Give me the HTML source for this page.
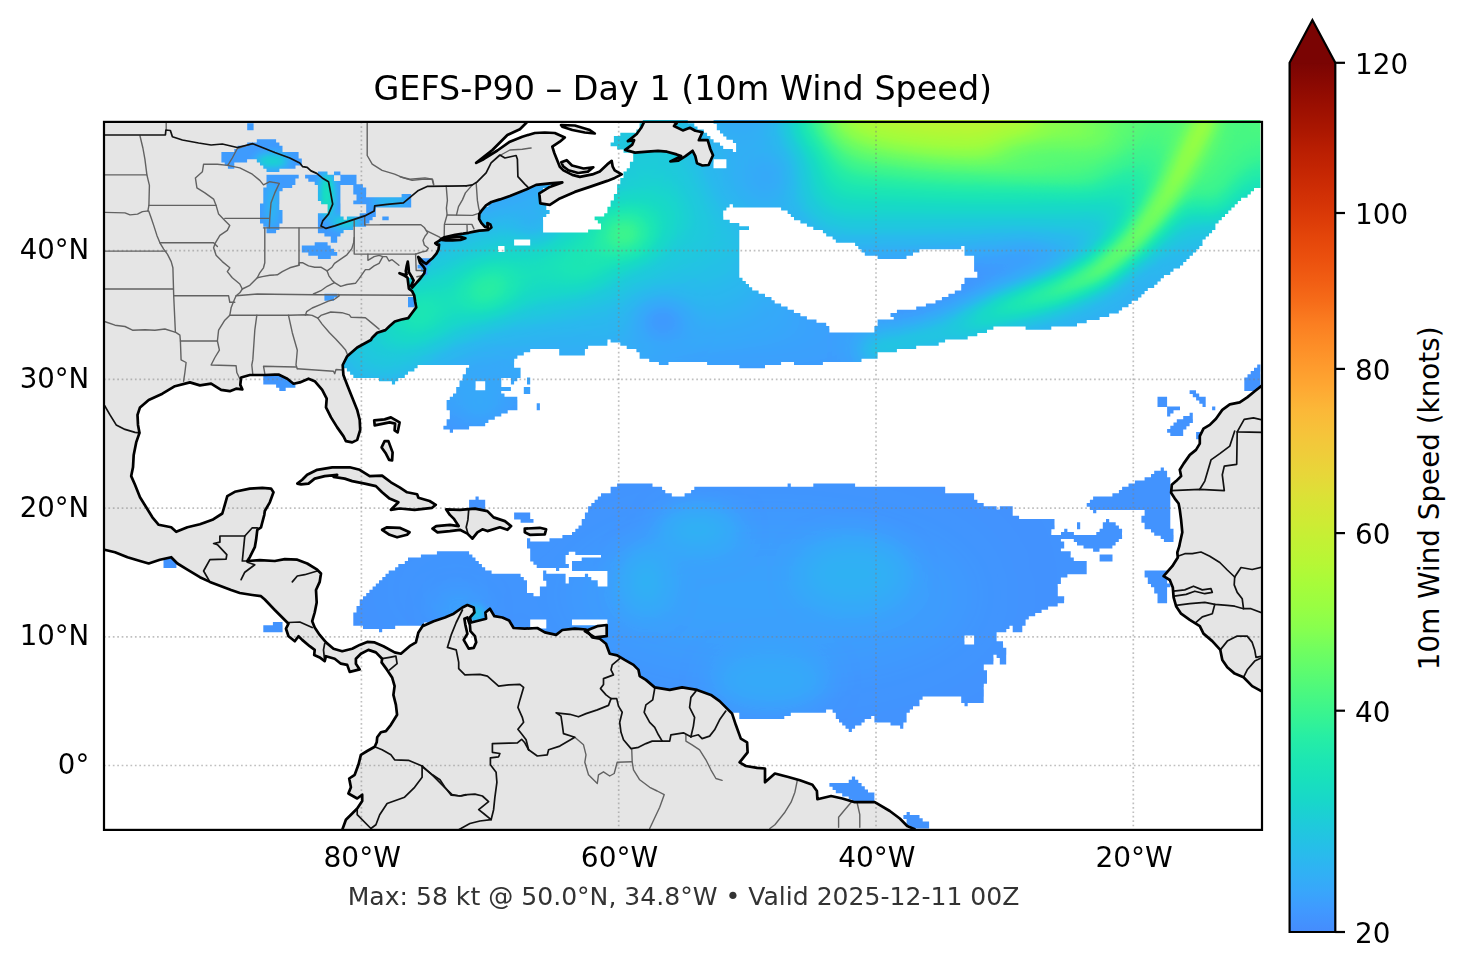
<!DOCTYPE html><html><head><meta charset="utf-8"><title>GEFS-P90 Day 1 10m Wind Speed</title>
<style>html,body{margin:0;padding:0;background:#fff}body{width:1466px;height:969px;overflow:hidden}svg{display:block}text{font-family:"DejaVu Sans","Liberation Sans",sans-serif;fill:#000}</style></head><body>
<svg width="1466" height="969" viewBox="0 0 1466 969">
<defs>
<filter id="turbo" filterUnits="userSpaceOnUse" x="0" y="0" width="1466" height="969" color-interpolation-filters="sRGB"><feComponentTransfer><feFuncR type="table" tableValues="0.269 0.259 0.249 0.233 0.214 0.200 0.179 0.165 0.145 0.127 0.116 0.104 0.095 0.093 0.095 0.103 0.114 0.135 0.153 0.185 0.221 0.248 0.290 0.335 0.366 0.412 0.443 0.489 0.533 0.560 0.599 0.633 0.654 0.685 0.716 0.736 0.766 0.786 0.814 0.841 0.859"/><feFuncG type="table" tableValues="0.550 0.580 0.599 0.629 0.659 0.678 0.707 0.726 0.754 0.780 0.797 0.822 0.845 0.859 0.878 0.896 0.907 0.922 0.932 0.945 0.957 0.964 0.974 0.982 0.987 0.993 0.996 0.998 0.999 0.999 0.996 0.992 0.988 0.979 0.969 0.960 0.946 0.936 0.919 0.900 0.887"/><feFuncB type="table" tableValues="0.993 0.999 0.998 0.992 0.980 0.968 0.948 0.932 0.905 0.876 0.856 0.824 0.793 0.772 0.743 0.715 0.697 0.666 0.643 0.607 0.569 0.543 0.503 0.463 0.437 0.398 0.373 0.338 0.306 0.286 0.260 0.239 0.228 0.216 0.208 0.205 0.203 0.203 0.206 0.209 0.212"/></feComponentTransfer></filter>
<filter id="b4" filterUnits="userSpaceOnUse" x="-200" y="-200" width="1866" height="1369" color-interpolation-filters="sRGB"><feGaussianBlur stdDeviation="4"/></filter>
<filter id="b8" filterUnits="userSpaceOnUse" x="-200" y="-200" width="1866" height="1369" color-interpolation-filters="sRGB"><feGaussianBlur stdDeviation="8"/></filter>
<filter id="b14" filterUnits="userSpaceOnUse" x="-200" y="-200" width="1866" height="1369" color-interpolation-filters="sRGB"><feGaussianBlur stdDeviation="14"/></filter>
<filter id="b22" filterUnits="userSpaceOnUse" x="-200" y="-200" width="1866" height="1369" color-interpolation-filters="sRGB"><feGaussianBlur stdDeviation="22"/></filter>
<filter id="b35" filterUnits="userSpaceOnUse" x="-200" y="-200" width="1866" height="1369" color-interpolation-filters="sRGB"><feGaussianBlur stdDeviation="35"/></filter>
<clipPath id="cmap"><rect x="104.0" y="121.9" width="1158.0" height="708.0"/></clipPath>
<clipPath id="cocean"><path d="M642.8 120.0h45.0v3.82h-45.0zM713.6 120.0h546.8v3.82h-546.8zM639.6 123.2h54.7v3.82h-54.7zM716.8 123.2h543.6v3.82h-543.6zM639.6 126.4h57.9v3.82h-57.9zM716.8 126.4h543.6v3.82h-543.6zM636.4 129.6h67.5v3.82h-67.5zM720.0 129.6h540.4v3.82h-540.4zM620.3 132.8h86.8v3.82h-86.8zM723.2 132.8h537.2v3.82h-537.2zM613.9 136.0h96.5v3.82h-96.5zM726.4 136.0h534.0v3.82h-534.0zM613.9 139.3h99.7v3.82h-99.7zM732.9 139.3h527.5v3.82h-527.5zM610.6 142.5h109.4v3.82h-109.4zM736.1 142.5h524.3v3.82h-524.3zM617.1 145.7h106.1v3.82h-106.1zM736.1 145.7h524.3v3.82h-524.3zM623.5 148.9h109.4v3.82h-109.4zM736.1 148.9h524.3v3.82h-524.3zM633.2 152.1h627.2v3.82h-627.2zM633.2 155.4h627.2v3.82h-627.2zM633.2 158.6h80.4v3.82h-80.4zM726.4 158.6h534.0v3.82h-534.0zM629.9 161.8h83.6v3.82h-83.6zM726.4 161.8h534.0v3.82h-534.0zM629.9 165.0h83.6v3.82h-83.6zM726.4 165.0h534.0v3.82h-534.0zM626.7 168.2h633.7v3.82h-633.7zM623.5 171.4h636.9v3.82h-636.9zM623.5 174.7h636.9v3.82h-636.9zM536.7 177.9h3.2v3.82h-3.2zM620.3 177.9h640.1v3.82h-640.1zM523.8 181.1h28.9v3.82h-28.9zM620.3 181.1h640.1v3.82h-640.1zM517.4 184.3h32.2v3.82h-32.2zM617.1 184.3h643.3v3.82h-643.3zM510.9 187.5h32.2v3.82h-32.2zM617.1 187.5h636.9v3.82h-636.9zM504.5 190.8h35.4v3.82h-35.4zM617.1 190.8h633.7v3.82h-633.7zM498.1 194.0h41.8v3.82h-41.8zM613.9 194.0h633.7v3.82h-633.7zM494.8 197.2h45.0v3.82h-45.0zM613.9 197.2h627.2v3.82h-627.2zM491.6 200.4h48.2v3.82h-48.2zM610.6 200.4h627.2v3.82h-627.2zM488.4 203.6h57.9v3.82h-57.9zM610.6 203.6h119.0v3.82h-119.0zM732.9 203.6h501.8v3.82h-501.8zM482.0 206.8h64.3v3.82h-64.3zM607.4 206.8h119.0v3.82h-119.0zM781.1 206.8h450.3v3.82h-450.3zM478.8 210.1h70.8v3.82h-70.8zM607.4 210.1h115.8v3.82h-115.8zM787.6 210.1h440.7v3.82h-440.7zM475.5 213.3h70.8v3.82h-70.8zM604.2 213.3h119.0v3.82h-119.0zM790.8 213.3h434.2v3.82h-434.2zM475.5 216.5h67.5v3.82h-67.5zM594.6 216.5h128.7v3.82h-128.7zM794.0 216.5h427.8v3.82h-427.8zM472.3 219.7h70.8v3.82h-70.8zM597.8 219.7h131.9v3.82h-131.9zM800.4 219.7h418.2v3.82h-418.2zM472.3 222.9h70.8v3.82h-70.8zM601.0 222.9h138.3v3.82h-138.3zM806.9 222.9h408.5v3.82h-408.5zM459.5 226.2h83.6v3.82h-83.6zM601.0 226.2h148.0v3.82h-148.0zM813.3 226.2h402.1v3.82h-402.1zM449.8 229.4h93.3v3.82h-93.3zM588.1 229.4h151.2v3.82h-151.2zM822.9 229.4h389.2v3.82h-389.2zM436.9 232.6h302.4v3.82h-302.4zM826.2 232.6h382.8v3.82h-382.8zM433.7 235.8h305.6v3.82h-305.6zM832.6 235.8h373.1v3.82h-373.1zM433.7 239.0h80.4v3.82h-80.4zM530.2 239.0h209.1v3.82h-209.1zM835.8 239.0h366.7v3.82h-366.7zM430.5 242.2h83.6v3.82h-83.6zM530.2 242.2h209.1v3.82h-209.1zM855.1 242.2h347.4v3.82h-347.4zM427.3 245.5h70.8v3.82h-70.8zM504.5 245.5h234.8v3.82h-234.8zM858.3 245.5h102.9v3.82h-102.9zM964.5 245.5h234.8v3.82h-234.8zM424.1 248.7h74.0v3.82h-74.0zM504.5 248.7h234.8v3.82h-234.8zM861.5 248.7h57.9v3.82h-57.9zM964.5 248.7h231.6v3.82h-231.6zM424.1 251.9h315.2v3.82h-315.2zM864.8 251.9h48.2v3.82h-48.2zM964.5 251.9h228.4v3.82h-228.4zM420.9 255.1h318.4v3.82h-318.4zM877.6 255.1h28.9v3.82h-28.9zM974.1 255.1h215.5v3.82h-215.5zM420.9 258.3h318.4v3.82h-318.4zM974.1 258.3h212.3v3.82h-212.3zM417.6 261.6h321.7v3.82h-321.7zM974.1 261.6h209.1v3.82h-209.1zM414.4 264.8h324.9v3.82h-324.9zM974.1 264.8h205.9v3.82h-205.9zM414.4 268.0h324.9v3.82h-324.9zM974.1 268.0h199.4v3.82h-199.4zM411.2 271.2h328.1v3.82h-328.1zM977.3 271.2h193.0v3.82h-193.0zM411.2 274.4h328.1v3.82h-328.1zM977.3 274.4h186.6v3.82h-186.6zM404.8 277.7h337.7v3.82h-337.7zM964.5 277.7h196.2v3.82h-196.2zM404.8 280.9h341.0v3.82h-341.0zM964.5 280.9h193.0v3.82h-193.0zM404.8 284.1h344.2v3.82h-344.2zM961.2 284.1h193.0v3.82h-193.0zM404.8 287.3h347.4v3.82h-347.4zM961.2 287.3h186.6v3.82h-186.6zM408.0 290.5h350.6v3.82h-350.6zM954.8 290.5h189.8v3.82h-189.8zM408.0 293.7h357.0v3.82h-357.0zM948.4 293.7h193.0v3.82h-193.0zM408.0 297.0h363.5v3.82h-363.5zM941.9 297.0h196.2v3.82h-196.2zM408.0 300.2h366.7v3.82h-366.7zM935.5 300.2h196.2v3.82h-196.2zM404.8 303.4h376.3v3.82h-376.3zM925.9 303.4h202.6v3.82h-202.6zM401.6 306.6h386.0v3.82h-386.0zM916.2 306.6h205.9v3.82h-205.9zM398.3 309.8h395.6v3.82h-395.6zM896.9 309.8h221.9v3.82h-221.9zM395.1 313.1h405.3v3.82h-405.3zM890.5 313.1h218.7v3.82h-218.7zM388.7 316.3h418.2v3.82h-418.2zM893.7 316.3h205.9v3.82h-205.9zM385.5 319.5h431.0v3.82h-431.0zM877.6 319.5h209.1v3.82h-209.1zM382.3 322.7h443.9v3.82h-443.9zM877.6 322.7h199.4v3.82h-199.4zM379.0 325.9h450.3v3.82h-450.3zM874.4 325.9h119.0v3.82h-119.0zM1025.6 325.9h25.7v3.82h-25.7zM372.6 329.1h456.8v3.82h-456.8zM874.4 329.1h112.6v3.82h-112.6zM369.4 332.4h607.9v3.82h-607.9zM366.2 335.6h601.5v3.82h-601.5zM363.0 338.8h244.5v3.82h-244.5zM610.6 338.8h334.5v3.82h-334.5zM359.7 342.0h247.7v3.82h-247.7zM620.3 342.0h318.4v3.82h-318.4zM353.3 345.2h234.8v3.82h-234.8zM626.7 345.2h289.5v3.82h-289.5zM350.1 348.5h180.1v3.82h-180.1zM559.2 348.5h25.7v3.82h-25.7zM636.4 348.5h260.5v3.82h-260.5zM346.9 351.7h176.9v3.82h-176.9zM559.2 351.7h25.7v3.82h-25.7zM639.6 351.7h238.0v3.82h-238.0zM343.7 354.9h173.7v3.82h-173.7zM639.6 354.9h238.0v3.82h-238.0zM343.7 358.1h170.5v3.82h-170.5zM649.2 358.1h212.3v3.82h-212.3zM340.4 361.3h173.7v3.82h-173.7zM658.9 361.3h9.6v3.82h-9.6zM707.1 361.3h74.0v3.82h-74.0zM794.0 361.3h28.9v3.82h-28.9zM337.2 364.5h80.4v3.82h-80.4zM469.1 364.5h45.0v3.82h-45.0zM739.3 364.5h25.7v3.82h-25.7zM1257.2 364.5h3.2v3.82h-3.2zM346.9 367.8h67.5v3.82h-67.5zM465.9 367.8h54.7v3.82h-54.7zM1254.0 367.8h6.4v3.82h-6.4zM350.1 371.0h57.9v3.82h-57.9zM465.9 371.0h54.7v3.82h-54.7zM1250.7 371.0h9.6v3.82h-9.6zM263.3 374.2h22.5v3.82h-22.5zM353.3 374.2h51.5v3.82h-51.5zM462.7 374.2h57.9v3.82h-57.9zM1247.5 374.2h12.9v3.82h-12.9zM263.3 377.4h25.7v3.82h-25.7zM379.0 377.4h19.3v3.82h-19.3zM462.7 377.4h38.6v3.82h-38.6zM510.9 377.4h6.4v3.82h-6.4zM527.0 377.4h3.2v3.82h-3.2zM1244.3 377.4h16.1v3.82h-16.1zM263.3 380.6h28.9v3.82h-28.9zM391.9 380.6h3.2v3.82h-3.2zM459.5 380.6h16.1v3.82h-16.1zM485.2 380.6h16.1v3.82h-16.1zM510.9 380.6h3.2v3.82h-3.2zM527.0 380.6h3.2v3.82h-3.2zM1244.3 380.6h16.1v3.82h-16.1zM276.1 383.9h19.3v3.82h-19.3zM459.5 383.9h16.1v3.82h-16.1zM485.2 383.9h16.1v3.82h-16.1zM1244.3 383.9h16.1v3.82h-16.1zM279.3 387.1h6.4v3.82h-6.4zM456.2 387.1h19.3v3.82h-19.3zM485.2 387.1h25.7v3.82h-25.7zM523.8 387.1h6.4v3.82h-6.4zM1244.3 387.1h12.9v3.82h-12.9zM456.2 390.3h45.0v3.82h-45.0zM523.8 390.3h6.4v3.82h-6.4zM1189.6 390.3h6.4v3.82h-6.4zM453.0 393.5h51.5v3.82h-51.5zM1192.8 393.5h6.4v3.82h-6.4zM449.8 396.7h67.5v3.82h-67.5zM1157.5 396.7h9.6v3.82h-9.6zM1196.1 396.7h9.6v3.82h-9.6zM446.6 399.9h70.8v3.82h-70.8zM1157.5 399.9h9.6v3.82h-9.6zM1199.3 399.9h6.4v3.82h-6.4zM446.6 403.2h70.8v3.82h-70.8zM536.7 403.2h3.2v3.82h-3.2zM1157.5 403.2h9.6v3.82h-9.6zM1202.5 403.2h3.2v3.82h-3.2zM446.6 406.4h70.8v3.82h-70.8zM536.7 406.4h3.2v3.82h-3.2zM1167.1 406.4h12.9v3.82h-12.9zM1212.1 406.4h3.2v3.82h-3.2zM449.8 409.6h57.9v3.82h-57.9zM1167.1 409.6h6.4v3.82h-6.4zM449.8 412.8h51.5v3.82h-51.5zM1167.1 412.8h3.2v3.82h-3.2zM1189.6 412.8h3.2v3.82h-3.2zM449.8 416.0h45.0v3.82h-45.0zM1183.2 416.0h9.6v3.82h-9.6zM446.6 419.3h41.8v3.82h-41.8zM1176.8 419.3h16.1v3.82h-16.1zM446.6 422.5h38.6v3.82h-38.6zM1173.5 422.5h16.1v3.82h-16.1zM443.4 425.7h25.7v3.82h-25.7zM1170.3 425.7h16.1v3.82h-16.1zM449.8 428.9h3.2v3.82h-3.2zM1167.1 428.9h16.1v3.82h-16.1zM1170.3 432.1h12.9v3.82h-12.9zM1196.1 432.1h6.4v3.82h-6.4zM1196.1 435.4h6.4v3.82h-6.4zM1160.7 467.5h3.2v3.82h-3.2zM1154.2 470.8h12.9v3.82h-12.9zM1151.0 474.0h16.1v3.82h-16.1zM1144.6 477.2h25.7v3.82h-25.7zM1134.9 480.4h35.4v3.82h-35.4zM617.1 483.6h35.4v3.82h-35.4zM787.6 483.6h3.2v3.82h-3.2zM813.3 483.6h41.8v3.82h-41.8zM1128.5 483.6h41.8v3.82h-41.8zM610.6 486.8h51.5v3.82h-51.5zM694.3 486.8h250.9v3.82h-250.9zM1122.1 486.8h48.2v3.82h-48.2zM610.6 490.1h54.7v3.82h-54.7zM691.1 490.1h254.1v3.82h-254.1zM1118.9 490.1h51.5v3.82h-51.5zM601.0 493.3h70.8v3.82h-70.8zM684.6 493.3h289.5v3.82h-289.5zM1112.4 493.3h57.9v3.82h-57.9zM475.5 496.5h3.2v3.82h-3.2zM597.8 496.5h376.3v3.82h-376.3zM1093.1 496.5h77.2v3.82h-77.2zM469.1 499.7h16.1v3.82h-16.1zM594.6 499.7h382.8v3.82h-382.8zM1089.9 499.7h80.4v3.82h-80.4zM469.1 502.9h16.1v3.82h-16.1zM591.3 502.9h392.4v3.82h-392.4zM1086.7 502.9h83.6v3.82h-83.6zM469.1 506.2h16.1v3.82h-16.1zM588.1 506.2h408.5v3.82h-408.5zM999.8 506.2h12.9v3.82h-12.9zM1089.9 506.2h80.4v3.82h-80.4zM588.1 509.4h424.6v3.82h-424.6zM1093.1 509.4h3.2v3.82h-3.2zM1144.6 509.4h25.7v3.82h-25.7zM514.1 512.6h16.1v3.82h-16.1zM584.9 512.6h427.8v3.82h-427.8zM1144.6 512.6h25.7v3.82h-25.7zM514.1 515.8h16.1v3.82h-16.1zM584.9 515.8h434.2v3.82h-434.2zM1141.4 515.8h28.9v3.82h-28.9zM520.6 519.0h12.9v3.82h-12.9zM581.7 519.0h472.8v3.82h-472.8zM1106.0 519.0h3.2v3.82h-3.2zM1141.4 519.0h28.9v3.82h-28.9zM581.7 522.2h472.8v3.82h-472.8zM1077.0 522.2h3.2v3.82h-3.2zM1102.8 522.2h12.9v3.82h-12.9zM1144.6 522.2h25.7v3.82h-25.7zM578.5 525.5h476.1v3.82h-476.1zM1077.0 525.5h3.2v3.82h-3.2zM1102.8 525.5h16.1v3.82h-16.1zM1144.6 525.5h25.7v3.82h-25.7zM575.3 528.7h476.1v3.82h-476.1zM1064.2 528.7h3.2v3.82h-3.2zM1099.6 528.7h22.5v3.82h-22.5zM1151.0 528.7h22.5v3.82h-22.5zM572.0 531.9h479.3v3.82h-479.3zM1061.0 531.9h12.9v3.82h-12.9zM1096.3 531.9h25.7v3.82h-25.7zM1154.2 531.9h19.3v3.82h-19.3zM562.4 535.1h559.7v3.82h-559.7zM1160.7 535.1h12.9v3.82h-12.9zM527.0 538.3h3.2v3.82h-3.2zM549.5 538.3h511.4v3.82h-511.4zM1073.8 538.3h45.0v3.82h-45.0zM1163.9 538.3h9.6v3.82h-9.6zM527.0 541.6h537.2v3.82h-537.2zM1077.0 541.6h38.6v3.82h-38.6zM527.0 544.8h537.2v3.82h-537.2zM1083.5 544.8h28.9v3.82h-28.9zM530.2 548.0h530.7v3.82h-530.7zM1093.1 548.0h6.4v3.82h-6.4zM436.9 551.2h32.2v3.82h-32.2zM530.2 551.2h38.6v3.82h-38.6zM575.3 551.2h495.4v3.82h-495.4zM170.0 554.4h3.2v3.82h-3.2zM420.9 554.4h51.5v3.82h-51.5zM530.2 554.4h35.4v3.82h-35.4zM601.0 554.4h469.6v3.82h-469.6zM1099.6 554.4h12.9v3.82h-12.9zM163.5 557.6h12.9v3.82h-12.9zM408.0 557.6h67.5v3.82h-67.5zM530.2 557.6h35.4v3.82h-35.4zM581.7 557.6h492.1v3.82h-492.1zM1099.6 557.6h12.9v3.82h-12.9zM163.5 560.9h12.9v3.82h-12.9zM404.8 560.9h74.0v3.82h-74.0zM533.4 560.9h32.2v3.82h-32.2zM572.0 560.9h514.7v3.82h-514.7zM163.5 564.1h12.9v3.82h-12.9zM398.3 564.1h83.6v3.82h-83.6zM536.7 564.1h32.2v3.82h-32.2zM572.0 564.1h514.7v3.82h-514.7zM395.1 567.3h90.1v3.82h-90.1zM556.0 567.3h3.2v3.82h-3.2zM572.0 567.3h514.7v3.82h-514.7zM388.7 570.5h102.9v3.82h-102.9zM543.1 570.5h3.2v3.82h-3.2zM607.4 570.5h479.3v3.82h-479.3zM1144.6 570.5h22.5v3.82h-22.5zM385.5 573.7h135.1v3.82h-135.1zM543.1 573.7h22.5v3.82h-22.5zM584.9 573.7h3.2v3.82h-3.2zM607.4 573.7h460.0v3.82h-460.0zM1144.6 573.7h22.5v3.82h-22.5zM382.3 577.0h141.5v3.82h-141.5zM543.1 577.0h22.5v3.82h-22.5zM568.8 577.0h22.5v3.82h-22.5zM607.4 577.0h453.5v3.82h-453.5zM1147.8 577.0h19.3v3.82h-19.3zM379.0 580.2h148.0v3.82h-148.0zM546.3 580.2h19.3v3.82h-19.3zM568.8 580.2h28.9v3.82h-28.9zM607.4 580.2h453.5v3.82h-453.5zM1147.8 580.2h19.3v3.82h-19.3zM375.8 583.4h151.2v3.82h-151.2zM546.3 583.4h51.5v3.82h-51.5zM607.4 583.4h450.3v3.82h-450.3zM1151.0 583.4h19.3v3.82h-19.3zM372.6 586.6h154.4v3.82h-154.4zM539.9 586.6h517.9v3.82h-517.9zM1154.2 586.6h12.9v3.82h-12.9zM369.4 589.8h157.6v3.82h-157.6zM539.9 589.8h517.9v3.82h-517.9zM1154.2 589.8h12.9v3.82h-12.9zM366.2 593.1h167.3v3.82h-167.3zM539.9 593.1h517.9v3.82h-517.9zM1157.5 593.1h9.6v3.82h-9.6zM363.0 596.3h701.2v3.82h-701.2zM1157.5 596.3h9.6v3.82h-9.6zM359.7 599.5h704.4v3.82h-704.4zM1157.5 599.5h9.6v3.82h-9.6zM359.7 602.7h698.0v3.82h-698.0zM356.5 605.9h691.6v3.82h-691.6zM356.5 609.1h685.1v3.82h-685.1zM353.3 612.4h681.9v3.82h-681.9zM353.3 615.6h102.9v3.82h-102.9zM465.9 615.6h562.9v3.82h-562.9zM353.3 618.8h99.7v3.82h-99.7zM472.3 618.8h57.9v3.82h-57.9zM546.3 618.8h25.7v3.82h-25.7zM607.4 618.8h418.2v3.82h-418.2zM272.9 622.0h9.6v3.82h-9.6zM353.3 622.0h70.8v3.82h-70.8zM427.3 622.0h19.3v3.82h-19.3zM482.0 622.0h48.2v3.82h-48.2zM546.3 622.0h25.7v3.82h-25.7zM607.4 622.0h418.2v3.82h-418.2zM263.3 625.2h19.3v3.82h-19.3zM363.0 625.2h32.2v3.82h-32.2zM424.1 625.2h3.2v3.82h-3.2zM507.7 625.2h22.5v3.82h-22.5zM546.3 625.2h463.2v3.82h-463.2zM1012.7 625.2h9.6v3.82h-9.6zM263.3 628.5h19.3v3.82h-19.3zM379.0 628.5h3.2v3.82h-3.2zM420.9 628.5h3.2v3.82h-3.2zM507.7 628.5h498.6v3.82h-498.6zM1012.7 628.5h9.6v3.82h-9.6zM510.9 631.7h485.7v3.82h-485.7zM546.3 634.9h19.3v3.82h-19.3zM581.7 634.9h382.8v3.82h-382.8zM974.1 634.9h22.5v3.82h-22.5zM556.0 638.1h3.2v3.82h-3.2zM588.1 638.1h376.3v3.82h-376.3zM974.1 638.1h22.5v3.82h-22.5zM597.8 641.3h366.7v3.82h-366.7zM974.1 641.3h28.9v3.82h-28.9zM604.2 644.5h398.9v3.82h-398.9zM604.2 647.8h402.1v3.82h-402.1zM604.2 651.0h402.1v3.82h-402.1zM604.2 654.2h389.2v3.82h-389.2zM996.6 654.2h9.6v3.82h-9.6zM613.9 657.4h379.6v3.82h-379.6zM999.8 657.4h6.4v3.82h-6.4zM620.3 660.6h373.1v3.82h-373.1zM999.8 660.6h6.4v3.82h-6.4zM623.5 663.9h360.3v3.82h-360.3zM633.2 667.1h350.6v3.82h-350.6zM633.2 670.3h353.8v3.82h-353.8zM636.4 673.5h350.6v3.82h-350.6zM636.4 676.7h350.6v3.82h-350.6zM639.6 679.9h347.4v3.82h-347.4zM642.8 683.2h341.0v3.82h-341.0zM649.2 686.4h334.5v3.82h-334.5zM652.5 689.6h331.3v3.82h-331.3zM668.5 692.8h3.2v3.82h-3.2zM694.3 692.8h289.5v3.82h-289.5zM700.7 696.0h221.9v3.82h-221.9zM961.2 696.0h22.5v3.82h-22.5zM707.1 699.3h212.3v3.82h-212.3zM961.2 699.3h22.5v3.82h-22.5zM713.6 702.5h205.9v3.82h-205.9zM964.5 702.5h3.2v3.82h-3.2zM716.8 705.7h196.2v3.82h-196.2zM723.2 708.9h102.9v3.82h-102.9zM832.6 708.9h77.2v3.82h-77.2zM739.3 712.1h51.5v3.82h-51.5zM835.8 712.1h70.8v3.82h-70.8zM739.3 715.3h45.0v3.82h-45.0zM835.8 715.3h35.4v3.82h-35.4zM874.4 715.3h32.2v3.82h-32.2zM839.0 718.6h25.7v3.82h-25.7zM874.4 718.6h32.2v3.82h-32.2zM842.2 721.8h19.3v3.82h-19.3zM890.5 721.8h12.9v3.82h-12.9zM845.5 725.0h9.6v3.82h-9.6zM900.1 725.0h3.2v3.82h-3.2zM848.7 728.2h3.2v3.82h-3.2zM851.9 776.5h3.2v3.82h-3.2zM848.7 779.7h9.6v3.82h-9.6zM829.4 782.9h32.2v3.82h-32.2zM832.6 786.2h32.2v3.82h-32.2zM835.8 789.4h32.2v3.82h-32.2zM842.2 792.6h32.2v3.82h-32.2zM848.7 795.8h25.7v3.82h-25.7zM851.9 799.0h22.5v3.82h-22.5zM906.6 811.9h3.2v3.82h-3.2zM903.4 815.1h16.1v3.82h-16.1zM906.6 818.3h16.1v3.82h-16.1zM906.6 821.6h22.5v3.82h-22.5zM909.8 824.8h19.3v3.82h-19.3z"/></clipPath>
<clipPath id="cland"><path d="M247.2 123.2h6.4v3.82h-6.4zM247.2 126.4h6.4v3.82h-6.4zM256.8 139.3h19.3v3.82h-19.3zM247.2 142.5h32.2v3.82h-32.2zM237.5 145.7h45.0v3.82h-45.0zM234.3 148.9h48.2v3.82h-48.2zM221.4 152.1h77.2v3.82h-77.2zM221.4 155.4h77.2v3.82h-77.2zM221.4 158.6h25.7v3.82h-25.7zM256.8 158.6h45.0v3.82h-45.0zM224.7 161.8h9.6v3.82h-9.6zM260.0 161.8h41.8v3.82h-41.8zM227.9 165.0h6.4v3.82h-6.4zM263.3 165.0h32.2v3.82h-32.2zM266.5 168.2h12.9v3.82h-12.9zM317.9 171.4h9.6v3.82h-9.6zM334.0 171.4h6.4v3.82h-6.4zM266.5 174.7h32.2v3.82h-32.2zM305.1 174.7h28.9v3.82h-28.9zM340.4 174.7h16.1v3.82h-16.1zM266.5 177.9h28.9v3.82h-28.9zM308.3 177.9h25.7v3.82h-25.7zM340.4 177.9h16.1v3.82h-16.1zM266.5 181.1h28.9v3.82h-28.9zM314.7 181.1h41.8v3.82h-41.8zM266.5 184.3h25.7v3.82h-25.7zM317.9 184.3h22.5v3.82h-22.5zM353.3 184.3h9.6v3.82h-9.6zM263.3 187.5h19.3v3.82h-19.3zM317.9 187.5h22.5v3.82h-22.5zM353.3 187.5h12.9v3.82h-12.9zM263.3 190.8h16.1v3.82h-16.1zM317.9 190.8h22.5v3.82h-22.5zM353.3 190.8h12.9v3.82h-12.9zM263.3 194.0h16.1v3.82h-16.1zM317.9 194.0h22.5v3.82h-22.5zM356.5 194.0h9.6v3.82h-9.6zM401.6 194.0h9.6v3.82h-9.6zM263.3 197.2h16.1v3.82h-16.1zM317.9 197.2h22.5v3.82h-22.5zM356.5 197.2h54.7v3.82h-54.7zM263.3 200.4h16.1v3.82h-16.1zM321.1 200.4h19.3v3.82h-19.3zM353.3 200.4h57.9v3.82h-57.9zM260.0 203.6h19.3v3.82h-19.3zM327.6 203.6h12.9v3.82h-12.9zM366.2 203.6h45.0v3.82h-45.0zM260.0 206.8h19.3v3.82h-19.3zM327.6 206.8h12.9v3.82h-12.9zM366.2 206.8h9.6v3.82h-9.6zM260.0 210.1h22.5v3.82h-22.5zM327.6 210.1h12.9v3.82h-12.9zM366.2 210.1h9.6v3.82h-9.6zM260.0 213.3h22.5v3.82h-22.5zM317.9 213.3h22.5v3.82h-22.5zM359.7 213.3h16.1v3.82h-16.1zM260.0 216.5h22.5v3.82h-22.5zM317.9 216.5h25.7v3.82h-25.7zM346.9 216.5h25.7v3.82h-25.7zM382.3 216.5h6.4v3.82h-6.4zM260.0 219.7h22.5v3.82h-22.5zM317.9 219.7h51.5v3.82h-51.5zM263.3 222.9h16.1v3.82h-16.1zM317.9 222.9h48.2v3.82h-48.2zM266.5 226.2h12.9v3.82h-12.9zM317.9 226.2h35.4v3.82h-35.4zM266.5 229.4h9.6v3.82h-9.6zM317.9 229.4h25.7v3.82h-25.7zM324.4 232.6h16.1v3.82h-16.1zM330.8 235.8h6.4v3.82h-6.4zM330.8 239.0h6.4v3.82h-6.4zM314.7 242.2h12.9v3.82h-12.9zM301.8 245.5h28.9v3.82h-28.9zM301.8 248.7h32.2v3.82h-32.2zM308.3 251.9h28.9v3.82h-28.9zM317.9 255.1h12.9v3.82h-12.9zM420.9 258.3h9.6v3.82h-9.6zM420.9 261.6h9.6v3.82h-9.6zM417.6 264.8h9.6v3.82h-9.6zM420.9 268.0h6.4v3.82h-6.4zM424.1 271.2h3.2v3.82h-3.2zM324.4 293.7h12.9v3.82h-12.9zM324.4 297.0h9.6v3.82h-9.6zM408.0 297.0h6.4v3.82h-6.4zM408.0 300.2h6.4v3.82h-6.4zM408.0 303.4h6.4v3.82h-6.4z"/></clipPath>
<linearGradient id="cb" x1="0" y1="1" x2="0" y2="0"><stop offset="0.0000" stop-color="#458cfd"/><stop offset="0.0250" stop-color="#4099ff"/><stop offset="0.0500" stop-color="#37a8fa"/><stop offset="0.0750" stop-color="#2eb4f2"/><stop offset="0.1000" stop-color="#25c0e7"/><stop offset="0.1250" stop-color="#1ecbda"/><stop offset="0.1500" stop-color="#18d7ca"/><stop offset="0.1750" stop-color="#18e0bd"/><stop offset="0.2000" stop-color="#1de7b2"/><stop offset="0.2250" stop-color="#27eea4"/><stop offset="0.2500" stop-color="#38f491"/><stop offset="0.2750" stop-color="#4af880"/><stop offset="0.3000" stop-color="#5dfc6f"/><stop offset="0.3250" stop-color="#71fe5f"/><stop offset="0.3500" stop-color="#88ff4e"/><stop offset="0.3750" stop-color="#99fe42"/><stop offset="0.4000" stop-color="#a7fc3a"/><stop offset="0.4250" stop-color="#b7f735"/><stop offset="0.4500" stop-color="#c3f134"/><stop offset="0.4750" stop-color="#d0ea34"/><stop offset="0.5000" stop-color="#dbe236"/><stop offset="0.5250" stop-color="#e7d739"/><stop offset="0.5500" stop-color="#efcd3a"/><stop offset="0.5750" stop-color="#f6c33a"/><stop offset="0.6000" stop-color="#fbb838"/><stop offset="0.6250" stop-color="#fea933"/><stop offset="0.6500" stop-color="#fe9b2d"/><stop offset="0.6750" stop-color="#fd8d27"/><stop offset="0.7000" stop-color="#fb7e21"/><stop offset="0.7250" stop-color="#f66c19"/><stop offset="0.7500" stop-color="#f15d13"/><stop offset="0.7750" stop-color="#eb500e"/><stop offset="0.8000" stop-color="#e4450a"/><stop offset="0.8250" stop-color="#da3907"/><stop offset="0.8500" stop-color="#d02f05"/><stop offset="0.8750" stop-color="#c52603"/><stop offset="0.9000" stop-color="#b91e02"/><stop offset="0.9250" stop-color="#a91601"/><stop offset="0.9500" stop-color="#9b0f01"/><stop offset="0.9750" stop-color="#8b0902"/><stop offset="1.0000" stop-color="#7a0403"/></linearGradient>
</defs>
<rect width="1466" height="969" fill="#fff"/>
<g clip-path="url(#cocean)"><g filter="url(#turbo)"><rect x="99.0" y="116.9" width="1168.0" height="718.0" fill="#060606"/><linearGradient id="sheet" gradientUnits="userSpaceOnUse" x1="0" y1="118" x2="0" y2="262"><stop offset="0.03" stop-color="#949494"/><stop offset="0.29" stop-color="#828282"/><stop offset="0.40" stop-color="#707070"/><stop offset="0.53" stop-color="#5c5c5c"/><stop offset="0.67" stop-color="#474747"/><stop offset="0.80" stop-color="#333333"/><stop offset="1.00" stop-color="#1a1a1a"/></linearGradient><linearGradient id="arcw" gradientUnits="userSpaceOnUse" x1="1205" y1="120" x2="955" y2="335"><stop offset="0.000" stop-color="#a8a8a8"/><stop offset="0.257" stop-color="#a8a8a8"/><stop offset="0.536" stop-color="#999999"/><stop offset="0.754" stop-color="#757575"/><stop offset="1.000" stop-color="#3d3d3d"/></linearGradient><linearGradient id="arcc" gradientUnits="userSpaceOnUse" x1="1205" y1="120" x2="955" y2="335"><stop offset="0.000" stop-color="#d6d6d6"/><stop offset="0.257" stop-color="#bdbdbd"/><stop offset="0.536" stop-color="#a8a8a8"/><stop offset="0.754" stop-color="#7a7a7a"/><stop offset="1.000" stop-color="#3d3d3d"/></linearGradient><g filter="url(#b35)"><path d="M380 340 L470 290 L560 268 L620 235 L650 190 L650 140" fill="none" stroke="#454545" stroke-width="135" stroke-linecap="round" stroke-linejoin="round" opacity="1.00"/><ellipse cx="700" cy="240" rx="85" ry="95" fill="#3b3b3b" opacity="1.00" transform="rotate(0 700 240)"/><ellipse cx="760" cy="335" rx="160" ry="40" fill="#1a1a1a" opacity="1.00" transform="rotate(0 760 335)"/><ellipse cx="540" cy="345" rx="150" ry="45" fill="#242424" opacity="1.00" transform="rotate(0 540 345)"/><ellipse cx="770" cy="595" rx="210" ry="80" fill="#151515" opacity="1.00" transform="rotate(0 770 595)"/><ellipse cx="455" cy="590" rx="60" ry="22" fill="#121212" opacity="1.00" transform="rotate(0 455 590)"/></g><g filter="url(#b22)"><path d="M860 60 L1340 60 L1340 190 L1230 262 L1090 262 L1000 250 L900 262 L810 262 L800 200 L830 130 Z" fill="url(#sheet)"/><ellipse cx="760" cy="165" rx="50" ry="55" fill="#242424" opacity="1.00" transform="rotate(0 760 165)"/><path d="M1250 210 L1150 300 L1060 325 L960 340" fill="none" stroke="#333333" stroke-width="40" stroke-linecap="round" stroke-linejoin="round" opacity="1.00"/><ellipse cx="955" cy="126" rx="165" ry="46" fill="#b8b8b8" opacity="1.00" transform="rotate(5 955 126)"/><path d="M400 325 L480 290 L560 266 L622 232 L660 215" fill="none" stroke="#666666" stroke-width="44" stroke-linecap="round" stroke-linejoin="round" opacity="1.00"/></g><g filter="url(#b14)"><ellipse cx="940" cy="117" rx="100" ry="26" fill="#dedede" opacity="1.00" transform="rotate(4 940 117)"/><path d="M1010 152 L1090 168" fill="none" stroke="#8f8f8f" stroke-width="26" stroke-linecap="round" stroke-linejoin="round" opacity="1.00"/><path d="M1203 125 L1186 160 L1167 196 L1150 220 L1133 241 L1099 271 L1062 289 L1030 300 L999 310 L955 330 L905 343 L872 350" fill="none" stroke="url(#arcw)" stroke-width="28" stroke-linecap="round" stroke-linejoin="round"/><path d="M1240 122 L1226 160 L1210 195" fill="none" stroke="#8a8a8a" stroke-width="34" stroke-linecap="round" stroke-linejoin="round" opacity="1.00"/><ellipse cx="767" cy="177" rx="14" ry="10" fill="#0a0a0a" opacity="1.00" transform="rotate(0 767 177)"/><ellipse cx="1025" cy="262" rx="20" ry="12" fill="#0f0f0f" opacity="1.00" transform="rotate(0 1025 262)"/><ellipse cx="488" cy="289" rx="24" ry="13" fill="#8a8a8a" opacity="1.00" transform="rotate(-25 488 289)"/><ellipse cx="420" cy="312" rx="20" ry="12" fill="#707070" opacity="1.00" transform="rotate(-35 420 312)"/><ellipse cx="585" cy="265" rx="28" ry="13" fill="#6b6b6b" opacity="1.00" transform="rotate(-20 585 265)"/><ellipse cx="624" cy="234" rx="24" ry="18" fill="#949494" opacity="1.00" transform="rotate(0 624 234)"/><ellipse cx="662" cy="320" rx="24" ry="16" fill="#000000" opacity="1.00" transform="rotate(0 662 320)"/><ellipse cx="535" cy="222" rx="18" ry="14" fill="#141414" opacity="1.00" transform="rotate(0 535 222)"/><ellipse cx="480" cy="400" rx="26" ry="26" fill="#1c1c1c" opacity="1.00" transform="rotate(0 480 400)"/><ellipse cx="698" cy="530" rx="40" ry="22" fill="#262626" opacity="1.00" transform="rotate(0 698 530)"/><ellipse cx="646" cy="581" rx="22" ry="32" fill="#262626" opacity="1.00" transform="rotate(0 646 581)"/><ellipse cx="853" cy="574" rx="55" ry="35" fill="#242424" opacity="1.00" transform="rotate(0 853 574)"/><ellipse cx="770" cy="680" rx="60" ry="30" fill="#1c1c1c" opacity="1.00" transform="rotate(0 770 680)"/><ellipse cx="459" cy="608" rx="25" ry="8" fill="#242424" opacity="1.00" transform="rotate(0 459 608)"/></g><g filter="url(#b8)"><path d="M1208 115 L1203 125 L1186 160 L1167 196 L1150 220 L1133 241 L1099 271 L1062 289 L1030 300 L999 310 L955 330 L905 343 L872 350" fill="none" stroke="url(#arcc)" stroke-width="13" stroke-linecap="round" stroke-linejoin="round"/></g><g filter="url(#b4)"><ellipse cx="476" cy="614" rx="8" ry="6" fill="#424242" opacity="1.00" transform="rotate(0 476 614)"/></g></g></g>
<g clip-path="url(#cmap)">
<g fill="#e5e5e5" stroke="none">
<polygon points="104.0,121.9 528.6,120.5 519.9,129.2 507.4,135.0 492.4,150.0 476.2,162.9 483.6,159.2 497.4,150.5 509.9,141.7 522.3,136.7 534.8,133.0 544.8,132.5 554.8,133.0 564.8,137.5 559.8,141.7 552.3,146.7 554.3,153.0 557.3,160.4 559.8,166.7 563.5,170.4 572.3,174.9 579.8,176.9 592.3,174.4 599.8,171.4 607.2,164.4 611.7,160.9 612.7,166.7 614.7,170.4 621.7,174.4 614.7,177.9 607.2,180.9 589.8,186.9 574.8,191.9 559.8,198.4 549.8,204.9 540.3,203.4 539.3,193.4 549.8,186.9 562.3,182.4 549.8,183.4 536.1,184.9 528.6,188.4 519.9,191.9 509.9,195.9 499.9,199.4 491.4,202.0 486.0,205.4 482.0,210.1 479.3,214.1 479.1,218.8 481.3,222.8 484.7,226.6 487.8,227.5 487.4,223.1 490.3,224.4 491.4,227.5 488.5,229.8 483.4,230.3 479.3,230.7 474.0,231.7 468.6,232.8 463.2,233.7 455.2,234.8 449.8,236.0 444.4,237.3 441.5,238.9 439.1,240.9 435.3,243.2 437.0,244.6 439.1,244.6 438.5,249.7 436.4,253.7 433.0,257.7 428.6,261.5 426.3,263.9 423.2,262.0 420.3,258.8 418.3,257.0 420.0,262.8 423.0,266.0 425.0,269.1 424.3,273.2 420.3,278.5 416.2,283.2 412.2,287.5 411.1,285.9 413.6,280.5 411.5,276.5 408.9,272.2 408.5,267.1 407.8,261.7 406.6,266.4 405.8,271.1 406.6,274.5 403.5,274.5 399.5,273.2 404.8,275.8 407.5,277.6 408.2,283.2 408.9,288.6 412.2,291.3 414.2,295.3 415.2,302.0 416.2,307.4 412.2,312.8 408.2,318.1 401.5,319.5 394.8,321.5 389.4,326.2 385.4,330.1 377.2,332.7 372.2,337.7 370.9,340.0 357.2,347.5 347.2,356.2 342.7,365.0 343.4,375.0 347.2,384.9 352.2,397.4 357.2,409.9 359.7,419.9 360.2,429.9 357.2,439.9 352.2,442.4 345.9,441.1 343.4,436.1 337.2,427.4 331.0,417.4 326.0,407.4 326.7,398.7 322.2,389.9 314.7,381.2 308.5,378.7 299.8,382.4 293.5,383.7 287.3,378.7 278.5,374.5 264.8,375.0 249.8,375.0 241.1,377.5 240.3,384.9 242.3,389.4 236.1,388.7 229.8,391.2 221.1,389.9 211.1,383.7 199.9,385.4 189.9,382.4 174.9,386.2 162.4,393.7 148.7,399.9 140.0,407.4 137.5,414.9 138.0,424.9 139.5,432.9 136.2,442.4 133.7,454.9 133.0,467.3 131.2,476.1 135.0,484.8 140.0,497.3 146.2,507.3 152.4,517.3 158.7,524.8 171.2,527.3 176.2,531.8 187.4,527.3 199.9,524.3 212.4,519.8 222.3,513.5 224.8,504.8 227.3,496.1 234.8,491.8 249.8,488.6 262.3,487.8 271.0,488.6 273.5,492.3 269.8,502.3 264.8,511.0 264.3,514.8 261.0,527.3 257.3,529.8 256.1,539.8 254.8,547.2 249.8,557.2 247.3,561.0 259.8,560.2 274.8,561.0 284.8,559.2 297.3,559.7 307.2,563.5 317.2,569.7 321.0,573.5 319.7,581.9 316.0,590.0 316.7,602.5 314.7,612.5 312.2,621.2 314.7,627.5 319.7,634.9 326.0,642.4 333.5,648.7 342.2,651.2 352.2,648.7 359.7,644.9 367.2,641.9 374.7,642.4 383.4,646.2 394.6,652.4 400.9,653.7 409.6,646.2 415.9,642.4 418.4,632.4 423.3,625.0 422.5,626.2 433.7,621.2 444.9,617.5 453.7,613.7 462.4,607.5 467.4,605.0 473.7,607.5 474.4,612.5 469.9,617.5 471.2,622.5 486.1,618.7 485.4,612.5 489.9,608.7 494.4,616.2 502.4,617.5 509.1,620.5 513.6,628.0 524.8,628.7 537.3,628.0 544.8,632.4 556.1,634.9 562.3,630.0 574.8,628.7 586.0,629.5 592.3,637.4 599.8,638.7 606.0,643.7 609.7,653.7 617.2,655.4 624.7,659.9 633.5,664.9 638.5,669.9 639.7,676.1 645.9,679.9 654.7,687.4 669.7,689.9 682.1,687.4 697.1,689.9 710.9,694.9 719.6,701.1 727.1,708.6 732.1,713.6 735.8,724.8 740.8,738.6 747.1,742.3 747.6,752.3 739.6,762.3 745.8,766.0 757.1,767.8 765.0,768.5 765.0,782.3 774.9,773.5 787.4,776.8 799.9,780.3 812.4,784.8 816.9,791.0 817.4,799.2 831.1,796.0 842.3,798.5 854.8,802.2 874.8,802.2 889.8,811.0 899.8,818.5 907.2,826.0 914.7,829.2 915.0,829.9 342.2,829.9 345.9,819.7 352.2,813.5 357.2,808.5 362.2,801.0 362.2,794.7 357.2,798.5 348.4,793.5 350.9,787.3 349.2,778.5 354.7,774.8 358.4,764.8 360.9,754.8 367.2,751.0 374.7,746.8 376.7,742.3 377.2,737.3 380.9,732.3 385.9,731.1 390.9,724.8 397.1,714.8 395.9,704.9 393.4,694.9 394.6,686.1 392.1,677.4 387.1,669.9 381.6,662.4 382.1,658.7 375.9,652.4 368.4,649.9 360.9,653.7 355.9,658.7 355.9,663.7 359.7,669.4 349.7,671.9 347.2,664.9 340.9,663.7 334.7,658.7 326.0,656.2 324.7,661.2 319.7,657.4 314.2,654.9 314.7,649.9 309.7,646.2 302.2,639.9 298.5,636.2 294.8,641.2 288.5,636.2 286.0,628.7 288.5,623.7 284.8,620.0 274.8,610.0 264.8,599.5 261.0,596.2 252.3,595.0 239.8,593.0 231.1,590.0 209.9,581.9 199.9,577.2 187.4,569.7 177.4,563.5 171.2,557.2 159.9,559.7 148.7,563.5 140.0,561.0 127.5,557.2 115.0,552.2 104.5,549.7 104.0,549.7"/>
<polygon points="1263.5,384.4 1254.7,391.2 1247.2,397.4 1239.7,402.4 1229.8,404.4 1222.3,409.9 1216.0,418.7 1209.8,424.9 1203.5,428.6 1199.8,436.1 1199.8,443.6 1196.0,449.9 1189.8,454.9 1183.6,463.6 1179.8,469.8 1181.1,476.1 1176.1,481.1 1171.8,484.8 1171.1,492.8 1174.8,498.6 1178.6,503.5 1179.8,509.8 1181.1,519.8 1182.3,532.3 1179.8,543.5 1179.3,546.2 1177.3,552.5 1177.8,557.5 1172.3,566.2 1163.6,576.2 1169.8,580.0 1172.8,587.4 1173.6,597.4 1176.1,606.2 1181.1,613.7 1189.8,619.9 1199.8,626.1 1203.5,633.6 1212.3,641.1 1220.3,649.9 1222.3,659.9 1227.3,667.3 1234.7,673.6 1243.5,677.3 1252.2,686.1 1263.5,692.3 1267.0,692.3 1267.0,384.4"/>
<polygon points="645.6,118.9 641.2,127.8 636.7,134.0 627.9,141.1 634.1,140.2 632.3,144.6 625.2,149.9 635.0,152.6 647.4,151.7 658.0,150.8 666.9,151.7 676.6,154.4 681.1,156.1 670.4,161.5 678.4,160.6 685.5,156.1 692.6,150.8 695.3,156.1 697.0,163.2 702.4,165.5 708.6,165.0 713.0,155.2 710.3,149.0 707.7,140.2 698.8,140.2 702.4,132.2 695.3,130.8 689.9,127.8 682.8,130.4 674.0,126.0 676.6,123.3 668.7,118.9"/>
<polygon points="441.5,239.2 449.8,237.7 460.5,236.9 465.4,238.3 460.5,240.0 452.5,240.4 445.8,240.4 441.7,239.9"/>
<polygon points="561.3,162.3 566.7,160.2 572.0,165.5 583.5,168.5 593.3,167.3 587.9,171.6 578.2,173.0 568.4,170.3 563.1,166.2"/>
<polygon points="561.0,125.0 574.8,125.5 589.8,130.0 594.8,133.5 584.8,132.5 572.3,130.0 562.3,126.7"/>
<polygon points="297.3,483.6 302.2,479.8 307.2,474.8 317.2,469.8 332.2,467.3 349.7,467.3 359.7,469.8 369.7,476.1 382.1,475.6 390.9,482.3 399.6,487.3 407.1,492.3 417.1,494.3 418.4,497.8 429.6,501.0 435.8,504.8 432.1,507.8 414.6,509.8 399.6,508.5 390.9,509.8 398.4,502.3 389.6,498.6 382.1,492.3 375.9,486.1 364.7,483.6 352.2,481.1 344.7,478.6 333.5,476.8 337.2,474.8 324.7,476.1 314.7,478.6 308.5,483.6 301.0,484.3"/>
<polygon points="382.1,529.8 387.1,527.3 399.6,527.8 409.6,532.3 407.1,534.8 397.1,537.3 389.6,534.8"/>
<polygon points="374.2,420.4 384.6,419.4 390.9,417.4 399.6,422.4 397.6,432.4 394.6,430.4 395.1,423.6 389.6,422.4 374.7,425.4"/>
<polygon points="381.6,447.4 384.6,441.1 388.4,441.1 392.6,452.4 392.1,460.3 389.1,459.9 385.9,453.6"/>
<polygon points="446.2,509.4 459.9,509.9 474.9,508.6 487.4,511.1 493.6,517.4 504.9,521.1 511.1,526.1 507.4,529.8 499.9,527.3 487.4,531.1 482.4,529.3 477.4,532.3 472.4,538.6 467.4,533.6 459.9,529.8 449.9,531.1 437.5,532.3 432.5,528.6 436.2,526.1 449.9,524.8 458.7,526.1 453.7,518.6 449.9,514.9"/>
<polygon points="524.8,528.6 539.8,527.8 546.1,529.3 544.8,534.3 529.8,534.8 524.8,532.3"/>
<polygon points="584.8,631.2 597.3,626.2 606.7,625.0 606.7,636.2 594.8,637.4"/>
</g>
<polygon points="467.4,617.5 469.9,625.0 470.4,631.2 474.9,636.2 476.2,642.4 473.7,647.9 468.7,648.7 463.7,639.9 467.4,633.7 465.4,625.0 464.4,618.7" fill="#fff"/>
</g>
<g clip-path="url(#cland)"><g filter="url(#turbo)"><rect x="104.0" y="121.9" width="1158.0" height="708.0" fill="#0f0f0f"/><g filter="url(#b4)"><ellipse cx="272" cy="161" rx="16" ry="7" fill="#4c4c4c"/><ellipse cx="272" cy="205" rx="5" ry="22" fill="#2e2e2e"/><ellipse cx="327" cy="195" rx="7" ry="22" fill="#616161"/><ellipse cx="345" cy="222" rx="14" ry="6" fill="#4c4c4c"/><ellipse cx="390" cy="202" rx="18" ry="5" fill="#333333"/></g></g></g>
<g stroke="#808080" stroke-opacity="0.5" stroke-width="1.67" stroke-dasharray="1.67 2.75" fill="none">
<path d="M361.4 121.9V829.9"/>
<path d="M618.7 121.9V829.9"/>
<path d="M876.0 121.9V829.9"/>
<path d="M1133.3 121.9V829.9"/>
<path d="M104.0 765.5H1262.0"/>
<path d="M104.0 636.8H1262.0"/>
<path d="M104.0 508.1H1262.0"/>
<path d="M104.0 379.3H1262.0"/>
<path d="M104.0 250.6H1262.0"/>
</g>
<g clip-path="url(#cmap)" fill="none" stroke-linejoin="round" stroke-linecap="round">
<g stroke="#626262" stroke-width="1.4">
<path d="M166.2 121.7 L166.2 130.0"/>
<path d="M367.2 121.7 L367.2 155.5 L372.2 164.2 L382.1 170.4 L394.6 174.2 L403.4 177.9 L412.1 180.4 L422.1 179.2 L432.1 179.2 L433.6 184.9"/>
<path d="M140.0 136.0 L142.9 148.0 L144.9 159.2 L146.9 174.9 L149.4 185.4 L148.9 205.4 L147.9 210.9"/>
<path d="M104.5 174.9 L146.9 174.9"/>
<path d="M104.5 212.4 L125.0 212.9 L130.0 214.9 L137.5 214.1 L142.4 211.6 L148.7 210.9 L151.2 217.9 L153.7 225.4 L156.9 235.4 L159.9 242.8 L163.7 249.1 L167.4 254.1 L171.2 261.6 L172.9 267.8 L173.7 295.8 L175.4 332.2 L179.9 335.2 L180.4 341.0 L181.1 359.9 L186.1 362.5 L184.9 372.5 L183.6 381.2"/>
<path d="M104.5 251.1 L166.2 251.1"/>
<path d="M104.5 289.0 L172.9 289.0"/>
<path d="M104.5 321.5 L115.0 325.2 L125.0 326.5 L132.5 330.2 L144.9 329.7 L154.9 330.2 L164.9 329.0 L174.9 332.2"/>
<path d="M180.4 341.0 L217.4 341.0"/>
<path d="M148.9 205.4 L216.1 205.4"/>
<path d="M159.9 242.8 L213.6 242.8 L217.4 246.6"/>
<path d="M173.7 295.8 L228.6 295.8 L229.8 302.3 L234.8 302.3"/>
<path d="M252.8 143.7 L244.8 146.0 L237.3 148.5 L232.3 158.0 L227.8 165.4"/>
<path d="M227.8 165.4 L217.4 164.2 L203.6 164.2 L202.4 171.7 L195.4 177.9 L196.9 187.9 L204.9 192.9 L213.6 199.1 L216.1 205.4 L218.6 214.1 L224.8 220.4 L229.8 225.4 L227.3 230.4 L219.9 235.4 L215.4 242.8 L213.6 247.8 L216.1 255.3 L222.3 261.6 L229.8 267.8 L227.3 271.6 L232.3 277.8 L239.8 284.0 L242.3 289.0 L239.8 292.8 L236.1 295.8 L233.6 301.5 L231.1 307.8 L229.8 315.3 L224.8 320.2 L218.6 330.2 L217.4 341.0 L219.4 350.2 L214.9 357.5 L211.1 365.0 L236.1 365.7 L236.8 372.5 L239.8 378.7"/>
<path d="M227.8 165.4 L239.8 167.9 L252.3 174.2 L259.8 180.4 L263.5 184.9 L269.8 181.7 L279.3 183.4 L274.8 192.9 L271.0 202.9 L269.8 217.9 L269.3 227.9"/>
<path d="M224.8 218.4 L269.3 218.4"/>
<path d="M264.8 227.9 L264.8 262.8 L263.5 267.8 L259.8 272.8 L257.3 277.8"/>
<path d="M263.5 227.9 L322.2 227.9"/>
<path d="M299.0 227.9 L299.0 265.3"/>
<path d="M242.3 289.0 L249.8 285.3 L257.3 277.8 L262.3 276.6 L269.8 275.3 L277.3 274.8 L282.3 271.6 L289.8 267.8 L299.0 265.3 L299.2 262.8 L302.9 262.8 L308.5 265.9 L314.7 267.2 L320.9 267.2 L327.1 270.9 L332.0 267.2 L334.5 263.4 L340.7 259.1 L346.9 254.8 L351.8 248.6 L353.7 242.4 L354.3 237.4"/>
<path d="M354.2 220.4 L354.2 254.1 L415.9 254.1"/>
<path d="M364.7 216.6 L364.7 224.9"/>
<path d="M236.1 295.8 L257.3 294.0 L314.7 294.8 L413.4 295.3"/>
<path d="M229.8 315.3 L256.1 315.3 L288.5 315.3 L307.2 314.8 L312.2 315.4 L317.8 318.2 L320.9 315.4 L330.8 312.0 L341.9 312.7 L349.3 314.8 L351.2 317.3 L365.4 317.7 L371.6 322.9 L379.1 329.1"/>
<path d="M327.1 270.9 L328.9 275.8 L332.0 280.2 L334.5 282.6 L327.1 286.3 L320.9 290.7 L313.4 294.0"/>
<path d="M334.5 282.6 L340.7 286.3 L346.9 284.5 L355.5 283.3 L359.3 278.3 L365.4 269.6 L369.2 269.6 L374.1 265.9 L379.1 263.4 L382.8 256.6 L386.5 256.6 L389.0 261.0 L392.1 259.7 L398.9 265.3"/>
<path d="M367.9 254.1 L367.9 260.3 L374.1 256.6 L379.1 255.4 L382.8 256.6"/>
<path d="M305.4 315.2 L306.6 311.7 L312.2 308.0 L320.9 304.3 L328.3 301.2 L334.5 299.3 L339.4 295.6 L338.2 294.4"/>
<path d="M256.8 315.3 L254.8 330.2 L252.8 359.9 L251.8 365.0 L252.8 374.5"/>
<path d="M288.5 315.3 L292.3 332.7 L297.3 350.2 L296.0 365.0 L297.3 368.7"/>
<path d="M317.8 318.2 L322.1 324.1 L329.5 332.8 L335.7 339.0 L341.9 345.8 L345.6 350.0 L347.9 355.7"/>
<path d="M400.0 176.7 L410.0 179.2 L425.0 177.9 L432.5 179.2 L433.7 184.2"/>
<path d="M499.9 155.5 L509.9 150.0 L522.3 149.2 L531.1 148.0"/>
<path d="M446.2 185.9 L447.4 200.4 L446.4 208.1 L447.1 214.8 L444.4 224.4 L444.2 236.2"/>
<path d="M472.4 184.9 L465.4 192.9 L462.4 199.9 L458.5 206.7 L456.5 214.8"/>
<path d="M476.2 183.4 L477.4 200.4 L478.7 208.1 L480.0 212.8"/>
<path d="M447.1 215.0 L472.6 215.4 L480.0 212.8"/>
<path d="M445.5 224.4 L471.9 224.4 L474.0 228.9"/>
<path d="M467.0 224.8 L467.2 232.2"/>
<path d="M364.7 224.9 L379.7 224.9 L380.0 224.8 L420.9 224.8 L424.3 227.5 L426.3 230.6 L427.7 232.9 L425.0 236.2 L423.0 240.3 L424.3 245.0 L428.3 248.3 L426.3 251.0 L423.0 251.7 L418.9 253.0 L415.6 254.1"/>
<path d="M426.3 230.6 L439.1 236.9 L441.1 238.3"/>
<path d="M415.6 254.1 L416.2 270.5 L425.0 270.5"/>
<path d="M416.9 276.8 L422.3 275.8"/>
<path d="M264.8 373.7 L263.5 366.2 L296.0 367.0"/>
<path d="M297.3 368.7 L333.5 371.2 L334.7 373.7 L336.0 369.5 L342.2 370.0"/>
<path d="M574.8 737.3 L583.5 744.8 L586.0 754.8 L584.8 762.3 L588.5 774.8 L597.3 783.5 L598.5 774.8 L603.5 771.8 L609.7 776.0 L614.2 773.5 L617.2 762.3 L631.7 761.8"/>
<path d="M631.7 748.6 L632.2 761.8 L633.5 769.8 L639.7 779.8 L649.7 787.3 L657.2 791.0 L664.2 794.7 L659.7 807.2 L649.7 828.5"/>
<path d="M685.9 734.8 L685.9 741.1 L692.1 744.8 L699.6 749.8 L705.9 759.8 L710.9 769.8 L715.9 778.5 L722.1 780.3"/>
<path d="M797.4 779.8 L794.9 792.2 L791.1 802.2 L784.9 812.2 L774.9 824.7 L769.9 828.5"/>
<path d="M852.3 801.0 L844.8 809.7 L838.6 817.2 L838.6 827.2"/>
<path d="M857.3 803.5 L859.8 814.7 L859.8 827.2"/>
</g>
<g stroke="#111" stroke-width="1.7">
<path d="M104.5 135.0 L165.4 135.0 L165.9 130.0 L170.4 130.5 L172.4 136.7 L182.4 140.0 L198.6 143.0 L211.1 145.0 L222.3 144.0 L237.3 147.5 L247.3 145.0 L252.8 143.7 L264.8 148.5 L274.8 152.5 L289.8 158.0 L299.8 162.9 L302.7 166.7 L307.2 167.4 L311.0 170.9 L316.7 173.4 L322.2 177.9 L328.5 181.7 L330.2 190.4 L332.7 204.1 L328.5 214.1 L322.7 220.9 L321.0 225.9 L326.0 228.4 L334.7 225.9 L349.7 220.9 L364.7 215.9 L374.2 210.9 L374.7 205.9 L387.1 204.4 L403.4 202.9 L410.9 196.7 L418.4 190.4 L427.1 186.4 L466.0 185.9"/>
<path d="M466.2 185.9 L472.4 184.9 L477.4 181.7 L486.1 172.9 L491.1 162.9 L499.9 155.0 L504.9 158.0 L516.1 155.5 L517.4 159.2 L517.9 176.7 L524.8 184.2 L528.6 187.9"/>
<path d="M104.5 405.4 L110.0 414.9 L116.2 424.9 L125.0 429.4 L135.0 432.4 L139.5 432.9"/>
<path d="M209.9 581.9 L203.6 571.0 L209.9 559.7 L226.1 559.2 L226.8 554.7 L217.4 544.7 L213.6 543.5 L219.9 542.2 L219.9 536.0 L244.8 536.0"/>
<path d="M257.3 527.8 L252.3 527.8 L244.8 536.0 L242.3 561.0 L247.3 561.0"/>
<path d="M247.3 562.2 L254.8 564.7 L244.8 572.2 L241.1 579.7"/>
<path d="M317.2 571.0 L304.7 574.7 L297.3 576.0 L292.3 581.9"/>
<path d="M468.7 509.9 L467.9 519.9 L466.2 527.3 L467.9 533.6"/>
<path d="M288.5 622.5 L299.8 622.0 L312.2 627.5"/>
<path d="M324.7 643.7 L323.5 649.9 L324.7 661.2"/>
<path d="M382.1 658.7 L389.6 657.4 L395.9 656.2 L397.1 663.7 L389.6 669.9"/>
<path d="M374.7 746.8 L382.1 749.8 L390.9 754.8 L394.6 759.8 L408.4 760.3 L422.1 766.0"/>
<path d="M422.1 766.0 L422.1 777.3 L414.6 787.3 L404.6 797.2 L387.1 803.5 L379.7 814.7 L375.9 824.7 L370.9 828.5 L357.2 814.7 L357.2 809.7"/>
<path d="M422.1 766.0 L432.1 774.8 L444.6 787.3 L452.1 794.7 L459.6 796.0 L466.0 794.7"/>
<path d="M462.4 610.0 L456.2 622.5 L451.2 634.9 L447.4 647.4 L456.2 649.9 L458.7 662.4 L458.7 668.7 L464.9 674.9 L479.9 674.4 L487.4 676.1 L498.6 686.1 L508.6 684.9 L519.9 684.4 L523.6 687.4 L519.9 699.9 L517.9 707.4 L522.3 717.3 L523.6 722.3 L517.9 729.3 L522.3 734.8 L526.1 739.8 L528.6 749.8"/>
<path d="M528.6 749.8 L524.8 742.8 L521.6 739.3 L517.4 742.8 L492.4 743.6 L492.4 752.3 L499.9 753.5 L498.6 756.8 L490.4 757.8 L490.4 764.8 L496.1 772.3 L496.9 782.3 L494.9 797.2 L493.6 809.7 L491.1 819.7 L483.6 813.5 L478.7 809.7 L488.6 801.7 L482.4 796.0 L474.9 794.2 L467.4 794.7 L461.2 796.0 L451.2 795.2 L444.9 787.3 L440.0 779.8 L432.5 774.8 L422.5 766.8"/>
<path d="M491.1 819.7 L479.9 821.0 L469.9 823.5 L458.7 829.7"/>
<path d="M528.6 749.8 L537.3 756.0 L547.3 754.8 L548.6 749.8 L559.8 746.1 L574.8 737.3 L563.5 733.6 L562.3 724.8 L561.0 716.1 L556.1 712.8 L569.8 714.3 L578.5 716.8 L586.0 713.6 L597.3 709.9 L608.5 705.4 L611.0 698.6"/>
<path d="M611.0 698.6 L606.0 694.9 L600.5 688.6 L603.5 684.4 L603.5 678.6 L613.5 674.9 L611.0 669.9 L612.2 664.9 L619.7 658.7"/>
<path d="M611.0 698.6 L616.7 698.6 L618.5 706.1 L622.2 712.3 L619.7 722.3 L621.0 732.3 L623.5 739.8 L631.0 748.6 L638.5 747.3 L645.9 743.6 L652.2 741.1 L662.2 741.1"/>
<path d="M654.7 688.6 L652.7 699.9 L645.9 704.9 L644.2 712.3 L649.7 722.3 L654.7 727.3 L658.4 734.8 L662.2 741.1"/>
<path d="M662.2 741.1 L669.7 741.1 L670.9 734.8 L683.4 732.8 L687.1 734.8 L690.9 736.8"/>
<path d="M695.9 691.1 L690.9 697.4 L689.6 707.4 L694.6 717.3 L693.4 726.1 L690.9 736.8"/>
<path d="M690.9 736.8 L698.4 734.8 L702.1 738.6 L709.6 736.1 L714.6 729.8 L719.6 719.8 L725.8 711.1"/>
<path d="M1262.2 419.9 L1253.5 417.9 L1244.2 419.4 L1239.7 427.4 L1237.2 431.9 L1262.2 432.4"/>
<path d="M1171.1 490.6 L1199.8 489.3 L1224.3 490.6 L1222.3 474.8 L1224.3 466.1 L1236.7 464.3 L1237.2 431.9"/>
<path d="M1199.8 489.3 L1204.8 481.1 L1211.0 459.9 L1219.8 453.6 L1229.8 446.1 L1234.7 431.1"/>
<path d="M1177.8 556.2 L1184.8 553.7 L1192.3 553.7 L1201.0 552.0 L1209.8 556.2 L1219.8 562.5 L1227.3 570.0 L1234.7 577.0"/>
<path d="M1234.7 577.0 L1234.2 584.9 L1237.2 592.4 L1242.2 598.7 L1243.5 608.7"/>
<path d="M1234.7 577.0 L1241.0 567.5 L1252.2 569.5 L1262.2 567.0"/>
<path d="M1173.6 591.2 L1184.8 589.9 L1193.5 586.2 L1202.3 589.9 L1211.0 588.7 L1212.3 592.4 L1204.8 593.7 L1194.8 591.2 L1186.1 594.4 L1174.3 596.2"/>
<path d="M1176.1 605.4 L1189.8 603.7 L1204.8 602.4 L1214.8 604.4 L1227.3 605.4 L1234.7 606.2 L1243.5 608.7 L1251.0 608.7 L1262.2 612.9"/>
<path d="M1214.8 604.4 L1212.3 613.7 L1202.3 616.9 L1196.0 622.4"/>
<path d="M1220.3 649.9 L1227.3 641.1 L1237.2 636.1 L1247.2 636.1 L1252.2 642.4 L1254.7 649.9 L1256.0 657.4 L1262.2 656.1"/>
<path d="M1243.5 677.3 L1247.2 669.8 L1254.7 661.1 L1262.2 657.4"/>
</g>
<g stroke="#000" stroke-width="2.7">
<path d="M528.6 120.5 L519.9 129.2 L507.4 135.0 L492.4 150.0 L476.2 162.9 L483.6 159.2 L497.4 150.5 L509.9 141.7 L522.3 136.7 L534.8 133.0 L544.8 132.5 L554.8 133.0 L564.8 137.5 L559.8 141.7 L552.3 146.7 L554.3 153.0 L557.3 160.4 L559.8 166.7 L563.5 170.4 L572.3 174.9 L579.8 176.9 L592.3 174.4 L599.8 171.4 L607.2 164.4 L611.7 160.9 L612.7 166.7 L614.7 170.4 L621.7 174.4 L614.7 177.9 L607.2 180.9 L589.8 186.9 L574.8 191.9 L559.8 198.4 L549.8 204.9 L540.3 203.4 L539.3 193.4 L549.8 186.9 L562.3 182.4 L549.8 183.4 L536.1 184.9 L528.6 188.4 L519.9 191.9 L509.9 195.9 L499.9 199.4 L491.4 202.0 L486.0 205.4 L482.0 210.1 L479.3 214.1 L479.1 218.8 L481.3 222.8 L484.7 226.6 L487.8 227.5 L487.4 223.1 L490.3 224.4 L491.4 227.5 L488.5 229.8 L483.4 230.3 L479.3 230.7 L474.0 231.7 L468.6 232.8 L463.2 233.7 L455.2 234.8 L449.8 236.0 L444.4 237.3 L441.5 238.9 L439.1 240.9 L435.3 243.2 L437.0 244.6 L439.1 244.6 L438.5 249.7 L436.4 253.7 L433.0 257.7 L428.6 261.5 L426.3 263.9 L423.2 262.0 L420.3 258.8 L418.3 257.0 L420.0 262.8 L423.0 266.0 L425.0 269.1 L424.3 273.2 L420.3 278.5 L416.2 283.2 L412.2 287.5 L411.1 285.9 L413.6 280.5 L411.5 276.5 L408.9 272.2 L408.5 267.1 L407.8 261.7 L406.6 266.4 L405.8 271.1 L406.6 274.5 L403.5 274.5 L399.5 273.2 L404.8 275.8 L407.5 277.6 L408.2 283.2 L408.9 288.6 L412.2 291.3 L414.2 295.3 L415.2 302.0 L416.2 307.4 L412.2 312.8 L408.2 318.1 L401.5 319.5 L394.8 321.5 L389.4 326.2 L385.4 330.1 L377.2 332.7 L372.2 337.7 L370.9 340.0 L357.2 347.5 L347.2 356.2 L342.7 365.0 L343.4 375.0 L347.2 384.9 L352.2 397.4 L357.2 409.9 L359.7 419.9 L360.2 429.9 L357.2 439.9 L352.2 442.4 L345.9 441.1 L343.4 436.1 L337.2 427.4 L331.0 417.4 L326.0 407.4 L326.7 398.7 L322.2 389.9 L314.7 381.2 L308.5 378.7 L299.8 382.4 L293.5 383.7 L287.3 378.7 L278.5 374.5 L264.8 375.0 L249.8 375.0 L241.1 377.5 L240.3 384.9 L242.3 389.4 L236.1 388.7 L229.8 391.2 L221.1 389.9 L211.1 383.7 L199.9 385.4 L189.9 382.4 L174.9 386.2 L162.4 393.7 L148.7 399.9 L140.0 407.4 L137.5 414.9 L138.0 424.9 L139.5 432.9 L136.2 442.4 L133.7 454.9 L133.0 467.3 L131.2 476.1 L135.0 484.8 L140.0 497.3 L146.2 507.3 L152.4 517.3 L158.7 524.8 L171.2 527.3 L176.2 531.8 L187.4 527.3 L199.9 524.3 L212.4 519.8 L222.3 513.5 L224.8 504.8 L227.3 496.1 L234.8 491.8 L249.8 488.6 L262.3 487.8 L271.0 488.6 L273.5 492.3 L269.8 502.3 L264.8 511.0 L264.3 514.8 L261.0 527.3 L257.3 529.8 L256.1 539.8 L254.8 547.2 L249.8 557.2 L247.3 561.0 L259.8 560.2 L274.8 561.0 L284.8 559.2 L297.3 559.7 L307.2 563.5 L317.2 569.7 L321.0 573.5 L319.7 581.9 L316.0 590.0 L316.7 602.5 L314.7 612.5 L312.2 621.2 L314.7 627.5 L319.7 634.9 L326.0 642.4 L333.5 648.7 L342.2 651.2 L352.2 648.7 L359.7 644.9 L367.2 641.9 L374.7 642.4 L383.4 646.2 L394.6 652.4 L400.9 653.7 L409.6 646.2 L415.9 642.4 L418.4 632.4 L423.3 625.0 L422.5 626.2 L433.7 621.2 L444.9 617.5 L453.7 613.7 L462.4 607.5 L467.4 605.0 L473.7 607.5 L474.4 612.5 L469.9 617.5 L471.2 622.5 L486.1 618.7 L485.4 612.5 L489.9 608.7 L494.4 616.2 L502.4 617.5 L509.1 620.5 L513.6 628.0 L524.8 628.7 L537.3 628.0 L544.8 632.4 L556.1 634.9 L562.3 630.0 L574.8 628.7 L586.0 629.5 L592.3 637.4 L599.8 638.7 L606.0 643.7 L609.7 653.7 L617.2 655.4 L624.7 659.9 L633.5 664.9 L638.5 669.9 L639.7 676.1 L645.9 679.9 L654.7 687.4 L669.7 689.9 L682.1 687.4 L697.1 689.9 L710.9 694.9 L719.6 701.1 L727.1 708.6 L732.1 713.6 L735.8 724.8 L740.8 738.6 L747.1 742.3 L747.6 752.3 L739.6 762.3 L745.8 766.0 L757.1 767.8 L765.0 768.5 L765.0 782.3 L774.9 773.5 L787.4 776.8 L799.9 780.3 L812.4 784.8 L816.9 791.0 L817.4 799.2 L831.1 796.0 L842.3 798.5 L854.8 802.2 L874.8 802.2 L889.8 811.0 L899.8 818.5 L907.2 826.0 L914.7 829.2 L915.0 829.9"/>
<path d="M342.2 829.9 L345.9 819.7 L352.2 813.5 L357.2 808.5 L362.2 801.0 L362.2 794.7 L357.2 798.5 L348.4 793.5 L350.9 787.3 L349.2 778.5 L354.7 774.8 L358.4 764.8 L360.9 754.8 L367.2 751.0 L374.7 746.8 L376.7 742.3 L377.2 737.3 L380.9 732.3 L385.9 731.1 L390.9 724.8 L397.1 714.8 L395.9 704.9 L393.4 694.9 L394.6 686.1 L392.1 677.4 L387.1 669.9 L381.6 662.4 L382.1 658.7 L375.9 652.4 L368.4 649.9 L360.9 653.7 L355.9 658.7 L355.9 663.7 L359.7 669.4 L349.7 671.9 L347.2 664.9 L340.9 663.7 L334.7 658.7 L326.0 656.2 L324.7 661.2 L319.7 657.4 L314.2 654.9 L314.7 649.9 L309.7 646.2 L302.2 639.9 L298.5 636.2 L294.8 641.2 L288.5 636.2 L286.0 628.7 L288.5 623.7 L284.8 620.0 L274.8 610.0 L264.8 599.5 L261.0 596.2 L252.3 595.0 L239.8 593.0 L231.1 590.0 L209.9 581.9 L199.9 577.2 L187.4 569.7 L177.4 563.5 L171.2 557.2 L159.9 559.7 L148.7 563.5 L140.0 561.0 L127.5 557.2 L115.0 552.2 L104.5 549.7"/>
<path d="M1263.5 384.4 L1254.7 391.2 L1247.2 397.4 L1239.7 402.4 L1229.8 404.4 L1222.3 409.9 L1216.0 418.7 L1209.8 424.9 L1203.5 428.6 L1199.8 436.1 L1199.8 443.6 L1196.0 449.9 L1189.8 454.9 L1183.6 463.6 L1179.8 469.8 L1181.1 476.1 L1176.1 481.1 L1171.8 484.8 L1171.1 492.8 L1174.8 498.6 L1178.6 503.5 L1179.8 509.8 L1181.1 519.8 L1182.3 532.3 L1179.8 543.5 L1179.3 546.2 L1177.3 552.5 L1177.8 557.5 L1172.3 566.2 L1163.6 576.2 L1169.8 580.0 L1172.8 587.4 L1173.6 597.4 L1176.1 606.2 L1181.1 613.7 L1189.8 619.9 L1199.8 626.1 L1203.5 633.6 L1212.3 641.1 L1220.3 649.9 L1222.3 659.9 L1227.3 667.3 L1234.7 673.6 L1243.5 677.3 L1252.2 686.1 L1263.5 692.3"/>
<path d="M645.6 118.9 L641.2 127.8 L636.7 134.0 L627.9 141.1 L634.1 140.2 L632.3 144.6 L625.2 149.9 L635.0 152.6 L647.4 151.7 L658.0 150.8 L666.9 151.7 L676.6 154.4 L681.1 156.1 L670.4 161.5 L678.4 160.6 L685.5 156.1 L692.6 150.8 L695.3 156.1 L697.0 163.2 L702.4 165.5 L708.6 165.0 L713.0 155.2 L710.3 149.0 L707.7 140.2 L698.8 140.2 L702.4 132.2 L695.3 130.8 L689.9 127.8 L682.8 130.4 L674.0 126.0 L676.6 123.3 L668.7 118.9Z"/>
<path d="M441.5 239.2 L449.8 237.7 L460.5 236.9 L465.4 238.3 L460.5 240.0 L452.5 240.4 L445.8 240.4 L441.7 239.9Z"/>
<path d="M561.3 162.3 L566.7 160.2 L572.0 165.5 L583.5 168.5 L593.3 167.3 L587.9 171.6 L578.2 173.0 L568.4 170.3 L563.1 166.2Z"/>
<path d="M561.0 125.0 L574.8 125.5 L589.8 130.0 L594.8 133.5 L584.8 132.5 L572.3 130.0 L562.3 126.7Z"/>
<path d="M297.3 483.6 L302.2 479.8 L307.2 474.8 L317.2 469.8 L332.2 467.3 L349.7 467.3 L359.7 469.8 L369.7 476.1 L382.1 475.6 L390.9 482.3 L399.6 487.3 L407.1 492.3 L417.1 494.3 L418.4 497.8 L429.6 501.0 L435.8 504.8 L432.1 507.8 L414.6 509.8 L399.6 508.5 L390.9 509.8 L398.4 502.3 L389.6 498.6 L382.1 492.3 L375.9 486.1 L364.7 483.6 L352.2 481.1 L344.7 478.6 L333.5 476.8 L337.2 474.8 L324.7 476.1 L314.7 478.6 L308.5 483.6 L301.0 484.3Z"/>
<path d="M382.1 529.8 L387.1 527.3 L399.6 527.8 L409.6 532.3 L407.1 534.8 L397.1 537.3 L389.6 534.8Z"/>
<path d="M374.2 420.4 L384.6 419.4 L390.9 417.4 L399.6 422.4 L397.6 432.4 L394.6 430.4 L395.1 423.6 L389.6 422.4 L374.7 425.4Z"/>
<path d="M381.6 447.4 L384.6 441.1 L388.4 441.1 L392.6 452.4 L392.1 460.3 L389.1 459.9 L385.9 453.6Z"/>
<path d="M446.2 509.4 L459.9 509.9 L474.9 508.6 L487.4 511.1 L493.6 517.4 L504.9 521.1 L511.1 526.1 L507.4 529.8 L499.9 527.3 L487.4 531.1 L482.4 529.3 L477.4 532.3 L472.4 538.6 L467.4 533.6 L459.9 529.8 L449.9 531.1 L437.5 532.3 L432.5 528.6 L436.2 526.1 L449.9 524.8 L458.7 526.1 L453.7 518.6 L449.9 514.9Z"/>
<path d="M524.8 528.6 L539.8 527.8 L546.1 529.3 L544.8 534.3 L529.8 534.8 L524.8 532.3Z"/>
<path d="M584.8 631.2 L597.3 626.2 L606.7 625.0 L606.7 636.2 L594.8 637.4Z"/>
<path d="M467.4 617.5 L469.9 625.0 L470.4 631.2 L474.9 636.2 L476.2 642.4 L473.7 647.9 L468.7 648.7 L463.7 639.9 L467.4 633.7 L465.4 625.0 L464.4 618.7Z"/>
</g></g>
<rect x="104.0" y="121.9" width="1158.0" height="708.0" fill="none" stroke="#000" stroke-width="2.2"/>
<text x="682.8" y="99.6" font-size="33.4" text-anchor="middle">GEFS-P90 – Day 1 (10m Wind Speed)</text>
<text x="362.2" y="866.8" font-size="28" text-anchor="middle">80°W</text>
<text x="619.5" y="866.8" font-size="28" text-anchor="middle">60°W</text>
<text x="876.8" y="866.8" font-size="28" text-anchor="middle">40°W</text>
<text x="1134.1" y="866.8" font-size="28" text-anchor="middle">20°W</text>
<text x="89.2" y="773.9" font-size="27.6" text-anchor="end">0°</text>
<text x="89.2" y="645.2" font-size="27.6" text-anchor="end">10°N</text>
<text x="89.2" y="516.5" font-size="27.6" text-anchor="end">20°N</text>
<text x="89.2" y="387.7" font-size="27.6" text-anchor="end">30°N</text>
<text x="89.2" y="259.0" font-size="27.6" text-anchor="end">40°N</text>
<text x="683.6" y="904.8" font-size="25.08" text-anchor="middle" style="fill:#333">Max: 58 kt @ 50.0°N, 34.8°W • Valid 2025-12-11 00Z</text>
<rect x="1289.6" y="62.8" width="45.7" height="869.2" fill="url(#cb)"/>
<path d="M1289.6 63.3L1312.4 20.0L1335.3 63.3Z" fill="#7a0403"/>
<path d="M1289.6 932.0V62.8L1312.4 20.0L1335.3 62.8V932.0Z" fill="none" stroke="#000" stroke-width="2.2" stroke-linejoin="miter"/>
<path d="M1335.3 932.0h9.7" stroke="#000" stroke-width="2.2"/>
<text x="1355.1" y="943.2" font-size="27.8">20</text>
<path d="M1335.3 710.7h9.7" stroke="#000" stroke-width="2.2"/>
<text x="1355.1" y="721.9" font-size="27.8">40</text>
<path d="M1335.3 533.1h9.7" stroke="#000" stroke-width="2.2"/>
<text x="1355.1" y="544.3" font-size="27.8">60</text>
<path d="M1335.3 368.9h9.7" stroke="#000" stroke-width="2.2"/>
<text x="1355.1" y="380.1" font-size="27.8">80</text>
<path d="M1335.3 213.0h9.7" stroke="#000" stroke-width="2.2"/>
<text x="1355.1" y="224.2" font-size="27.8">100</text>
<path d="M1335.3 62.8h9.7" stroke="#000" stroke-width="2.2"/>
<text x="1355.1" y="74.0" font-size="27.8">120</text>
<text transform="translate(1439.3 498.3) rotate(-90)" font-size="27.8" text-anchor="middle">10m Wind Speed (knots)</text>
</svg></body></html>
